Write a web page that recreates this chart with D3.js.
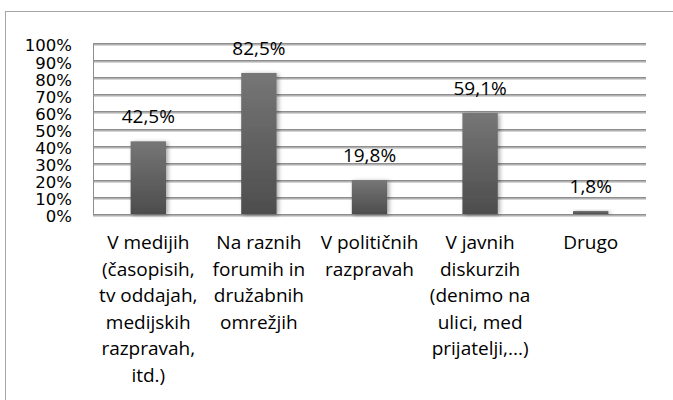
<!DOCTYPE html>
<html>
<head>
<meta charset="utf-8">
<script src="https://cdn.jsdelivr.net/npm/d3@7"></script>
<style>
  body { margin: 0; background: #fff; }
</style>
</head>
<body>
<div id="chart"></div>
<script>
// categories, one string per category, "\n" marks where the original label wraps
const categories = [
    "V medijih\n(časopisih,\ntv oddajah,\nmedijskih\nrazpravah,\nitd.)",
    "Na raznih\nforumih in\ndružabnih\nomrežjih",
    "V političnih\nrazpravah",
    "V javnih\ndiskurzih\n(denimo na\nulici, med\nprijatelji,...)",
    "Drugo"
];
const shares = [0.425, 0.825, 0.198, 0.591, 0.018];
const yTicks = [0, 0.1, 0.2, 0.3, 0.4, 0.5, 0.6, 0.7, 0.8, 0.9, 1.0];

const width = 673;
const height = 400;
const plotLeft = 93;
const plotRight = 646;
const plotTop = 43;
const plotBottom = 214;

const locale = d3.formatLocale({ decimal: ",", thousands: ".", grouping: [3], currency: ["", " €"] });
const fmtValue = locale.format(".1%");
const fmtTick = locale.format(".0%");

const svg = (
    d3.select("#chart")
    .append("svg")
    .attr("width", width)
    .attr("height", height)
);

const defs = svg.append("defs");
const grad = (
    defs.append("linearGradient")
    .attr("id", "barGrad")
    .attr("x1", 0).attr("y1", 0)
    .attr("x2", 0).attr("y2", 1)
);
grad.append("stop").attr("offset", "0%").attr("stop-color", "#767676");
grad.append("stop").attr("offset", "100%").attr("stop-color", "#4d4d4d");

const shadow = (
    defs.append("filter")
    .attr("id", "shadow")
    .attr("x", "-30%").attr("y", "-30%")
    .attr("width", "160%").attr("height", "160%")
);
(
    shadow.append("feDropShadow")
    .attr("dx", 2).attr("dy", 1)
    .attr("stdDeviation", 2)
    .attr("flood-color", "#000")
    .attr("flood-opacity", 0.35)
);

// outer chart border (runs past right and bottom edges)
(
    svg.append("rect")
    .attr("x", 5.5).attr("y", 11.5)
    .attr("width", width + 20).attr("height", height + 20)
    .attr("fill", "none")
    .attr("stroke", "#a6a6a6")
);

const xScale = d3.scaleBand().domain(categories).range([plotLeft, plotRight]);
const yScale = d3.scaleLinear().domain([0, 1]).range([plotBottom, plotTop]);
const barWidth = xScale.bandwidth() * 0.32;

// gridlines as thin rects (a light one underneath acts as the soft shadow)
const grid = svg.append("g");
(
    grid.selectAll("rect.shade")
    .data(yTicks)
    .join("rect")
    .attr("class", "shade")
    .attr("x", plotLeft)
    .attr("y", (d) => Math.round(yScale(d)))
    .attr("width", plotRight - plotLeft)
    .attr("height", 3)
    .attr("fill", "#d4d4d4")
);
(
    grid.selectAll("rect.main")
    .data(yTicks)
    .join("rect")
    .attr("class", "main")
    .attr("x", plotLeft)
    .attr("y", (d) => Math.round(yScale(d)))
    .attr("width", plotRight - plotLeft)
    .attr("height", 1.5)
    .attr("fill", "#8e8e8e")
);
(
    svg.append("rect")
    .attr("x", plotLeft)
    .attr("y", plotTop)
    .attr("width", 1)
    .attr("height", plotBottom - plotTop + 1)
    .attr("fill", "#8e8e8e")
);

// y axis labels
const yAxis = d3.axisLeft(yScale).tickValues(yTicks).tickFormat(fmtTick).tickSize(0).tickPadding(21);
const yG = (
    svg.append("g")
    .attr("transform", `translate(${plotLeft}, 0)`)
    .call(yAxis)
);
yG.select(".domain").remove();
(
    yG.selectAll("text")
    .attr("font-family", "DejaVu Sans")
    .attr("font-size", 16.5)
    .attr("fill", "#000")
    .attr("dy", "0.48em")
);

// bars
(
    svg.append("g")
    .selectAll("rect")
    .data(shares)
    .join("rect")
    .attr("x", (d, i) => xScale(categories[i]) + xScale.bandwidth() / 2 - barWidth / 2)
    .attr("y", (d) => yScale(d))
    .attr("width", barWidth)
    .attr("height", (d) => plotBottom - yScale(d))
    .attr("fill", "url(#barGrad)")
    .attr("filter", "url(#shadow)")
);

// value labels
(
    svg.append("g")
    .selectAll("text")
    .data(shares)
    .join("text")
    .attr("x", (d, i) => xScale(categories[i]) + xScale.bandwidth() / 2)
    .attr("y", (d) => yScale(d) - 18)
    .attr("text-anchor", "middle")
    .attr("font-family", "Open Sans")
    .attr("font-size", 19)
    .attr("fill", "#000")
    .text((d) => fmtValue(d))
);

// category labels
const catG = svg.append("g");
categories.forEach((c, i) => {
    const t = (
        catG.append("text")
        .attr("x", xScale(c) + xScale.bandwidth() / 2)
        .attr("y", 249)
        .attr("text-anchor", "middle")
        .attr("font-family", "Open Sans")
        .attr("font-size", 19)
        .attr("fill", "#000")
    );
    c.split("\n").forEach((line, j) => {
        (
            t.append("tspan")
            .attr("x", xScale(c) + xScale.bandwidth() / 2)
            .attr("y", 249 + j * 26.6)
            .text(line)
        );
    });
});
</script>
</body>
</html>
